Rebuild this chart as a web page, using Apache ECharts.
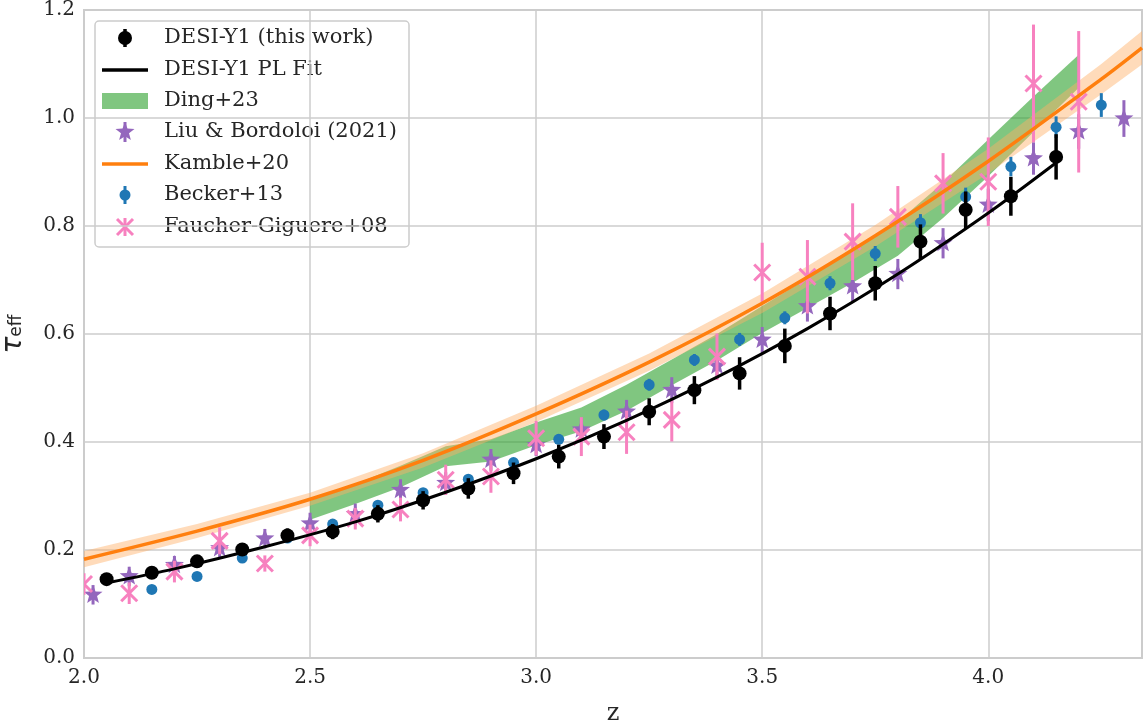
<!DOCTYPE html>
<html>
<head>
<meta charset="utf-8">
<script src="https://cdn.jsdelivr.net/npm/echarts@6/dist/echarts.min.js"></script>
<style>
html,body{margin:0;padding:0;background:#fff;}
#chart{width:1146px;height:726px;}
</style>
</head>
<body>
<div id="chart"></div>
<script>
// ---------------- data ----------------
const xTickLabels = ['2.0', '2.5', '3.0', '3.5', '4.0'];
const yTickLabels = ['0.0', '0.2', '0.4', '0.6', '0.8', '1.0', '1.2'];

// DESI-Y1 (this work)
const zDesi   = [2.05,2.15,2.25,2.35,2.45,2.55,2.65,2.75,2.85,2.95,3.05,3.15,3.25,3.35,3.45,3.55,3.65,3.75,3.85,3.95,4.05,4.15];
const tauDesi = [0.146,0.158,0.179,0.201,0.227,0.234,0.267,0.292,0.314,0.342,0.373,0.410,0.456,0.496,0.527,0.578,0.638,0.694,0.771,0.830,0.855,0.928];
const errDesi = [0.010,0.010,0.011,0.012,0.013,0.014,0.016,0.017,0.019,0.020,0.022,0.023,0.025,0.026,0.030,0.032,0.031,0.032,0.032,0.034,0.036,0.042];

// DESI-Y1 PL fit
const zFit   = [2.05,2.2,2.4,2.6,2.8,3.0,3.2,3.4,3.6,3.8,4.0,4.15];
const tauFit = [0.139,0.165,0.206,0.252,0.307,0.369,0.440,0.520,0.610,0.711,0.824,0.917];

// Ding+23 band
const zDing  = [2.5,2.6,2.7,2.8,2.9,3.0,3.1,3.2,3.3,3.4,3.5,3.6,3.7,3.8,3.9,4.0,4.1,4.2];
const dingLo = [0.256,0.285,0.316,0.355,0.364,0.394,0.420,0.458,0.505,0.551,0.602,0.648,0.695,0.745,0.815,0.892,0.974,1.056];
const dingHi = [0.291,0.322,0.356,0.392,0.405,0.436,0.464,0.506,0.553,0.600,0.652,0.703,0.755,0.808,0.880,0.960,1.040,1.117];

// Liu & Bordoloi (2021)
const zLiu   = [2.02,2.1,2.2,2.3,2.4,2.5,2.6,2.7,2.8,2.9,3.0,3.1,3.2,3.3,3.4,3.5,3.6,3.7,3.8,3.9,4.0,4.1,4.2,4.3];
const tauLiu = [0.117,0.151,0.172,0.203,0.221,0.249,0.266,0.311,0.324,0.367,0.394,0.423,0.456,0.496,0.541,0.589,0.651,0.688,0.711,0.768,0.839,0.925,0.975,0.999];
const errLiu = [0.018,0.018,0.017,0.018,0.018,0.020,0.020,0.020,0.020,0.020,0.020,0.022,0.022,0.024,0.024,0.024,0.028,0.028,0.028,0.028,0.030,0.030,0.032,0.034];

// Kamble+20
const zKam   = [2.0,2.25,2.5,2.75,3.0,3.25,3.5,3.75,4.0,4.25,4.34];
const tauKam = [0.183,0.235,0.294,0.366,0.452,0.548,0.657,0.782,0.920,1.072,1.130];
const kamLo  = [0.168,0.222,0.282,0.353,0.437,0.532,0.639,0.762,0.897,1.044,1.099];
const kamHi  = [0.198,0.248,0.306,0.379,0.467,0.564,0.675,0.802,0.943,1.100,1.161];

// Becker+13
const zBec   = [2.15,2.25,2.35,2.45,2.55,2.65,2.75,2.85,2.95,3.05,3.15,3.25,3.35,3.45,3.55,3.65,3.75,3.85,3.95,4.05,4.15,4.25];
const tauBec = [0.127,0.151,0.185,0.222,0.248,0.283,0.306,0.331,0.362,0.405,0.450,0.506,0.552,0.590,0.630,0.694,0.749,0.806,0.854,0.910,0.983,1.024];
const errBec = [0.005,0.005,0.005,0.006,0.006,0.007,0.007,0.008,0.008,0.009,0.010,0.011,0.011,0.012,0.012,0.013,0.014,0.016,0.017,0.018,0.020,0.022];

// Faucher-Giguere+08
const zFG   = [2.0,2.1,2.2,2.3,2.4,2.5,2.6,2.7,2.8,2.9,3.0,3.1,3.2,3.3,3.4,3.5,3.6,3.7,3.8,3.9,4.0,4.1,4.2];
const tauFG = [0.137,0.120,0.160,0.217,0.175,0.227,0.258,0.275,0.330,0.336,0.407,0.410,0.418,0.441,0.558,0.714,0.706,0.771,0.817,0.879,0.882,1.064,1.030];
const errFG = [0.020,0.020,0.020,0.025,0.015,0.020,0.020,0.022,0.028,0.030,0.032,0.036,0.040,0.040,0.043,0.055,0.068,0.071,0.057,0.056,0.082,0.109,0.131];

const legendNames = ['DESI-Y1 (this work)', 'DESI-Y1 PL Fit', 'Ding+23', 'Liu & Bordoloi (2021)', 'Kamble+20', 'Becker+13', 'Faucher-Giguere+08'];

// ---------------- styling ----------------
const C = {
  black: '#000000', green: '#2ca02c', purple: '#9467bd', orange: '#ff7f0e',
  blue: '#1f77b4', pink: '#f781bf', text: '#262626', grid: '#cccccc'
};
const SERIF = '"DejaVu Serif", serif';

function starPoints(cx, cy, R) {
  const pts = [];
  for (let k = 0; k < 10; k++) {
    const a = -Math.PI / 2 + k * Math.PI / 5;
    const r = (k % 2 === 0) ? R : R * 0.42;
    pts.push([cx + r * Math.cos(a), cy + r * Math.sin(a)]);
  }
  return pts;
}
function marker(kind, cx, cy, color) {
  if (kind === 'bigcircle') return [{type: 'circle', shape: {cx, cy, r: 7}, style: {fill: color}}];
  if (kind === 'circle') return [{type: 'circle', shape: {cx, cy, r: 5.5}, style: {fill: color}}];
  if (kind === 'star') return [{type: 'polygon', shape: {points: starPoints(cx, cy, 10)}, style: {fill: color}}];
  if (kind === 'x') {
    const s = 8;
    return [
      {type: 'line', shape: {x1: cx - s, y1: cy - s, x2: cx + s, y2: cy + s}, style: {stroke: color, lineWidth: 3}},
      {type: 'line', shape: {x1: cx - s, y1: cy + s, x2: cx + s, y2: cy - s}, style: {stroke: color, lineWidth: 3}}
    ];
  }
  return [];
}
function errSeries(xs, ys, es, kind, color, barW) {
  return {
    type: 'custom', clip: true, silent: true,
    data: xs.map((x, i) => [x, ys[i], es[i]]),
    renderItem: function (params, api) {
      const x = api.value(0), y = api.value(1), e = api.value(2);
      const c = api.coord([x, y]);
      const t = api.coord([x, y + e]);
      const b = api.coord([x, y - e]);
      const children = [{type: 'line', shape: {x1: t[0], y1: t[1], x2: b[0], y2: b[1]}, style: {stroke: color, lineWidth: barW}}];
      return {type: 'group', children: children.concat(marker(kind, c[0], c[1], color))};
    }
  };
}
function bandSeries(xs, lo, hi, color, opacity) {
  return {
    type: 'custom', clip: true, silent: true,
    data: [[xs[0], lo[0]]],
    renderItem: function (params, api) {
      const pts = [];
      for (let i = 0; i < xs.length; i++) pts.push(api.coord([xs[i], hi[i]]));
      for (let i = xs.length - 1; i >= 0; i--) pts.push(api.coord([xs[i], lo[i]]));
      return {type: 'polygon', shape: {points: pts}, style: {fill: color, opacity: opacity}};
    }
  };
}

// ---------------- legend (graphic) ----------------
const LX = 95, LY = 21, LW = 314, LH = 226;
const rowY = [38, 70, 101, 132, 164, 195, 227];
const hx = 125, hx1 = 102, hx2 = 148, tx = 164;
const legendEls = [{
  type: 'rect', shape: {x: LX, y: LY, width: LW, height: LH, r: 4},
  style: {fill: 'rgba(255,255,255,0.8)', stroke: C.grid, lineWidth: 1.5}
}];
function eb(y, h, color, w) { return {type: 'line', shape: {x1: hx, y1: y - h, x2: hx, y2: y + h}, style: {stroke: color, lineWidth: w}}; }
legendEls.push(eb(rowY[0], 9, C.black, 3.5), {type: 'circle', shape: {cx: hx, cy: rowY[0], r: 7}, style: {fill: C.black}});
legendEls.push({type: 'line', shape: {x1: hx1, y1: rowY[1], x2: hx2, y2: rowY[1]}, style: {stroke: C.black, lineWidth: 3.5}});
legendEls.push({type: 'rect', shape: {x: hx1, y: rowY[2] - 8, width: hx2 - hx1, height: 16}, style: {fill: C.green, opacity: 0.6}});
legendEls.push(eb(rowY[3], 10, C.purple, 3), {type: 'polygon', shape: {points: starPoints(hx, rowY[3], 10)}, style: {fill: C.purple}});
legendEls.push({type: 'line', shape: {x1: hx1, y1: rowY[4], x2: hx2, y2: rowY[4]}, style: {stroke: C.orange, lineWidth: 3.5}});
legendEls.push(eb(rowY[5], 9, C.blue, 3), {type: 'circle', shape: {cx: hx, cy: rowY[5], r: 5.5}, style: {fill: C.blue}});
legendEls.push(eb(rowY[6], 9, C.pink, 3));
marker('x', hx, rowY[6], C.pink).forEach(m => legendEls.push(m));
legendNames.forEach((n, i) => legendEls.push({
  type: 'text', x: tx, y: rowY[i],
  style: {text: n, font: '21px ' + SERIF, fill: C.text, textVerticalAlign: 'middle', textAlign: 'left'}
}));

// ---------------- chart ----------------
const chart = echarts.init(document.getElementById('chart'), null, {renderer: 'canvas'});
const option = {
  animation: false,
  backgroundColor: '#ffffff',
  grid: {left: 84, right: 4, top: 10, bottom: 68, show: true, borderColor: C.grid, borderWidth: 2,
         containLabel: false, outerBoundsMode: 'none'},
  xAxis: {
    type: 'value', min: 2.0, max: 4.34, interval: 0.5,
    axisLine: {show: false}, axisTick: {show: false},
    axisLabel: {
      formatter: v => { const i = Math.round((v - 2.0) / 0.5); return (Math.abs(v - (2.0 + i * 0.5)) < 1e-6 && xTickLabels[i]) ? xTickLabels[i] : ''; },
      color: C.text, fontSize: 20, fontFamily: SERIF, margin: 10, showMaxLabel: false
    },
    splitLine: {show: true, lineStyle: {color: C.grid, width: 1.5}},
    name: 'z', nameLocation: 'middle', nameGap: 44,
    nameTextStyle: {fontSize: 24, fontFamily: SERIF, color: C.text}
  },
  yAxis: {
    type: 'value', min: 0, max: 1.2, interval: 0.2,
    axisLine: {show: false}, axisTick: {show: false},
    axisLabel: {
      formatter: v => yTickLabels[Math.round(v / 0.2)] || '',
      color: C.text, fontSize: 20, fontFamily: SERIF, margin: 9
    },
    splitLine: {show: true, lineStyle: {color: C.grid, width: 1.5}},
    name: '{t|τ}{s|eff}', nameLocation: 'middle', nameGap: 50, nameRotate: 90,
    nameTextStyle: {
      rich: {
        t: {fontSize: 28, fontFamily: '"DejaVu Sans", sans-serif', fontStyle: 'italic', color: C.text, padding: [0, 0, 6, 0]},
        s: {fontSize: 17, fontFamily: '"DejaVu Sans", sans-serif', color: C.text}
      }
    }
  },
  series: [
    bandSeries(zDing, dingLo, dingHi, C.green, 0.6),
    bandSeries(zKam, kamLo, kamHi, '#ffb066', 0.45),
    {
      type: 'line', data: zKam.map((z, i) => [z, tauKam[i]]), smooth: 0.3, showSymbol: false, silent: true,
      lineStyle: {color: C.orange, width: 3.5}
    },
    errSeries(zLiu, tauLiu, errLiu, 'star', C.purple, 3),
    errSeries(zBec, tauBec, errBec, 'circle', C.blue, 3),
    errSeries(zFG, tauFG, errFG, 'x', C.pink, 3),
    {
      type: 'line', data: zFit.map((z, i) => [z, tauFit[i]]), smooth: 0.3, showSymbol: false, silent: true,
      lineStyle: {color: C.black, width: 3}
    },
    errSeries(zDesi, tauDesi, errDesi, 'bigcircle', C.black, 3.5)
  ],
  graphic: {elements: [{type: 'group', z: 100, children: legendEls}]}
};
chart.setOption(option);
</script>
</body>
</html>
